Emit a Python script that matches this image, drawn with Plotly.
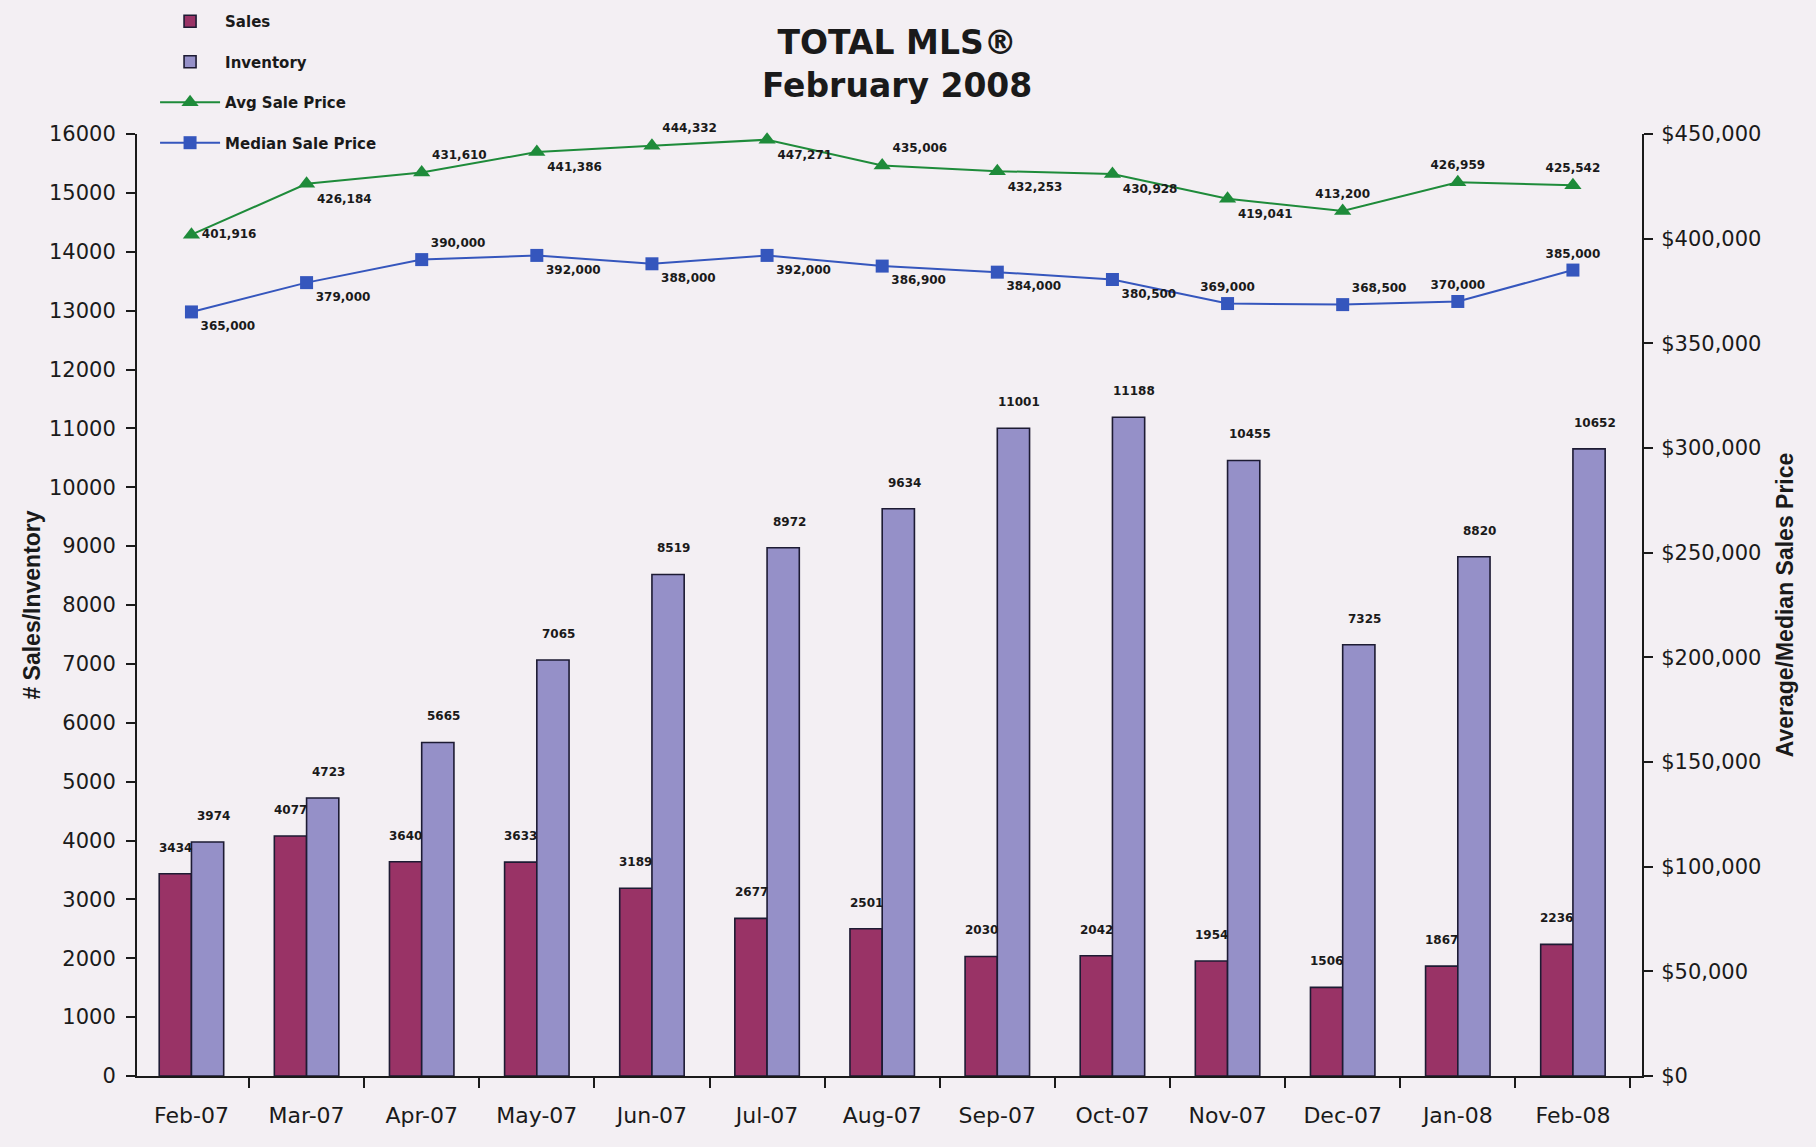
import plotly.graph_objects as go

months = ["Feb-07", "Mar-07", "Apr-07", "May-07", "Jun-07", "Jul-07", "Aug-07",
          "Sep-07", "Oct-07", "Nov-07", "Dec-07", "Jan-08", "Feb-08"]
sales = [3434, 4077, 3640, 3633, 3189, 2677, 2501, 2030, 2042, 1954, 1506, 1867, 2236]
inventory = [3974, 4723, 5665, 7065, 8519, 8972, 9634, 11001, 11188, 10455, 7325, 8820, 10652]
avg_price = [401916, 426184, 431610, 441386, 444332, 447271, 435006, 432253, 430928,
             419041, 413200, 426959, 425542]
median_price = [365000, 379000, 390000, 392000, 388000, 392000, 386900, 384000, 380500,
                369000, 368500, 370000, 385000]

avg_label_pos = ["middle right", "bottom right", "top right", "bottom right", "top right",
                 "bottom right", "top right", "bottom right", "bottom right", "bottom right",
                 "top center", "top center", "top center"]
median_label_pos = ["bottom right", "bottom right", "top right", "bottom right", "bottom right",
                    "bottom right", "bottom right", "bottom right", "bottom right", "top center",
                    "top right", "top center", "top center"]

FONT = "DejaVu Sans"
NARROW = "Liberation Sans Narrow, Arial Narrow, Liberation Sans, Arial"
BG = "#F3EFF3"
INK = "#1a1a1a"
EDGE = "#1d1b33"
SALES_C = "#993366"
INV_C = "#9590C8"
AVG_C = "#1E8B3A"
MED_C = "#3556BD"

fig = go.Figure()
fig.add_trace(go.Bar(
    x=months, y=sales, name="Sales", legendgroup="g1",
    marker=dict(color=SALES_C, line=dict(color=EDGE, width=1.6)),
))
fig.add_trace(go.Bar(
    x=months, y=inventory, name="Inventory", legendgroup="g2",
    marker=dict(color=INV_C, line=dict(color=EDGE, width=1.6)),
))
fig.add_trace(go.Scatter(
    x=months, y=avg_price, yaxis="y2", name="Avg Sale Price", legendgroup="g3",
    mode="lines+markers+text",
    line=dict(color=AVG_C, width=2),
    marker=dict(symbol="triangle-up", size=15, color=AVG_C),
    text=[f"{v:,}" for v in avg_price], textposition=avg_label_pos,
    textfont=dict(family=FONT, size=12, color=INK, weight="bold"),
    cliponaxis=False,
))
fig.add_trace(go.Scatter(
    x=months, y=median_price, yaxis="y2", name="Median Sale Price", legendgroup="g4",
    mode="lines+markers+text",
    line=dict(color=MED_C, width=2),
    marker=dict(symbol="square", size=13, color=MED_C),
    text=[f"{v:,}" for v in median_price], textposition=median_label_pos,
    textfont=dict(family=FONT, size=12, color=INK, weight="bold"),
    cliponaxis=False,
))

annotations = []
for m, s, inv in zip(months, sales, inventory):
    annotations.append(dict(x=m, y=s, xref="x", yref="y", text=str(s), showarrow=False,
                            xshift=-16, yshift=17, yanchor="bottom",
                            font=dict(family=FONT, size=12, color=INK, weight="bold")))
    annotations.append(dict(x=m, y=inv, xref="x", yref="y", text=str(inv), showarrow=False,
                            xshift=22, yshift=17, yanchor="bottom",
                            font=dict(family=FONT, size=12, color=INK, weight="bold")))

fig.update_layout(
    width=1816, height=1147,
    paper_bgcolor=BG, plot_bgcolor=BG,
    margin=dict(l=137, r=174, t=134, b=71, autoexpand=False),
    barmode="group", bargap=0.44, bargroupgap=0,
    title=dict(text="TOTAL MLS®<br>February 2008", x=0.494, xref="container", xanchor="center",
               y=1 - 54 / 1147, yref="container", yanchor="top",
               font=dict(family=FONT, size=33, color=INK, weight="bold")),
    legend=dict(x=0.012, y=1.137, xanchor="left", yanchor="top", bgcolor="rgba(0,0,0,0)",
                font=dict(family=FONT, size=15, color=INK, weight="bold"),
                tracegroupgap=18, itemwidth=60),
    showlegend=True,
    annotations=annotations,
    xaxis=dict(type="category", range=[-0.473, 12.6], showline=True, linecolor=INK, linewidth=2,
               ticks="outside", tickson="boundaries", ticklen=10, tickwidth=2, tickcolor=INK,
               tickfont=dict(family=FONT, size=22, color=INK), ticklabelstandoff=19,
               showgrid=False, zeroline=False),
    yaxis=dict(range=[0, 16000], dtick=1000, tickformat="d", showline=True, linecolor=INK,
               linewidth=2, ticks="outside", ticklen=9, tickwidth=2, tickcolor=INK,
               tickfont=dict(family=FONT, size=21, color=INK), ticklabelstandoff=6,
               showgrid=False, zeroline=False,
               title=dict(text="# Sales/Inventory", standoff=2,
                          font=dict(family=NARROW, size=23, color=INK, weight="bold"))),
    yaxis2=dict(range=[0, 450000], dtick=50000, tickprefix="$", tickformat=",d", overlaying="y",
                side="right", showline=True, linecolor=INK, linewidth=2, ticks="outside",
                ticklen=9, tickwidth=2, tickcolor=INK,
                tickfont=dict(family=FONT, size=21, color=INK), ticklabelstandoff=4,
                showgrid=False, zeroline=False,
                title=dict(text="Average/Median Sales Price", standoff=16,
                           font=dict(family=NARROW, size=23, color=INK, weight="bold"))),
)

fig.write_html("out.html", config={"displayModeBar": False},
               post_script="document.body.style.margin='0';")
